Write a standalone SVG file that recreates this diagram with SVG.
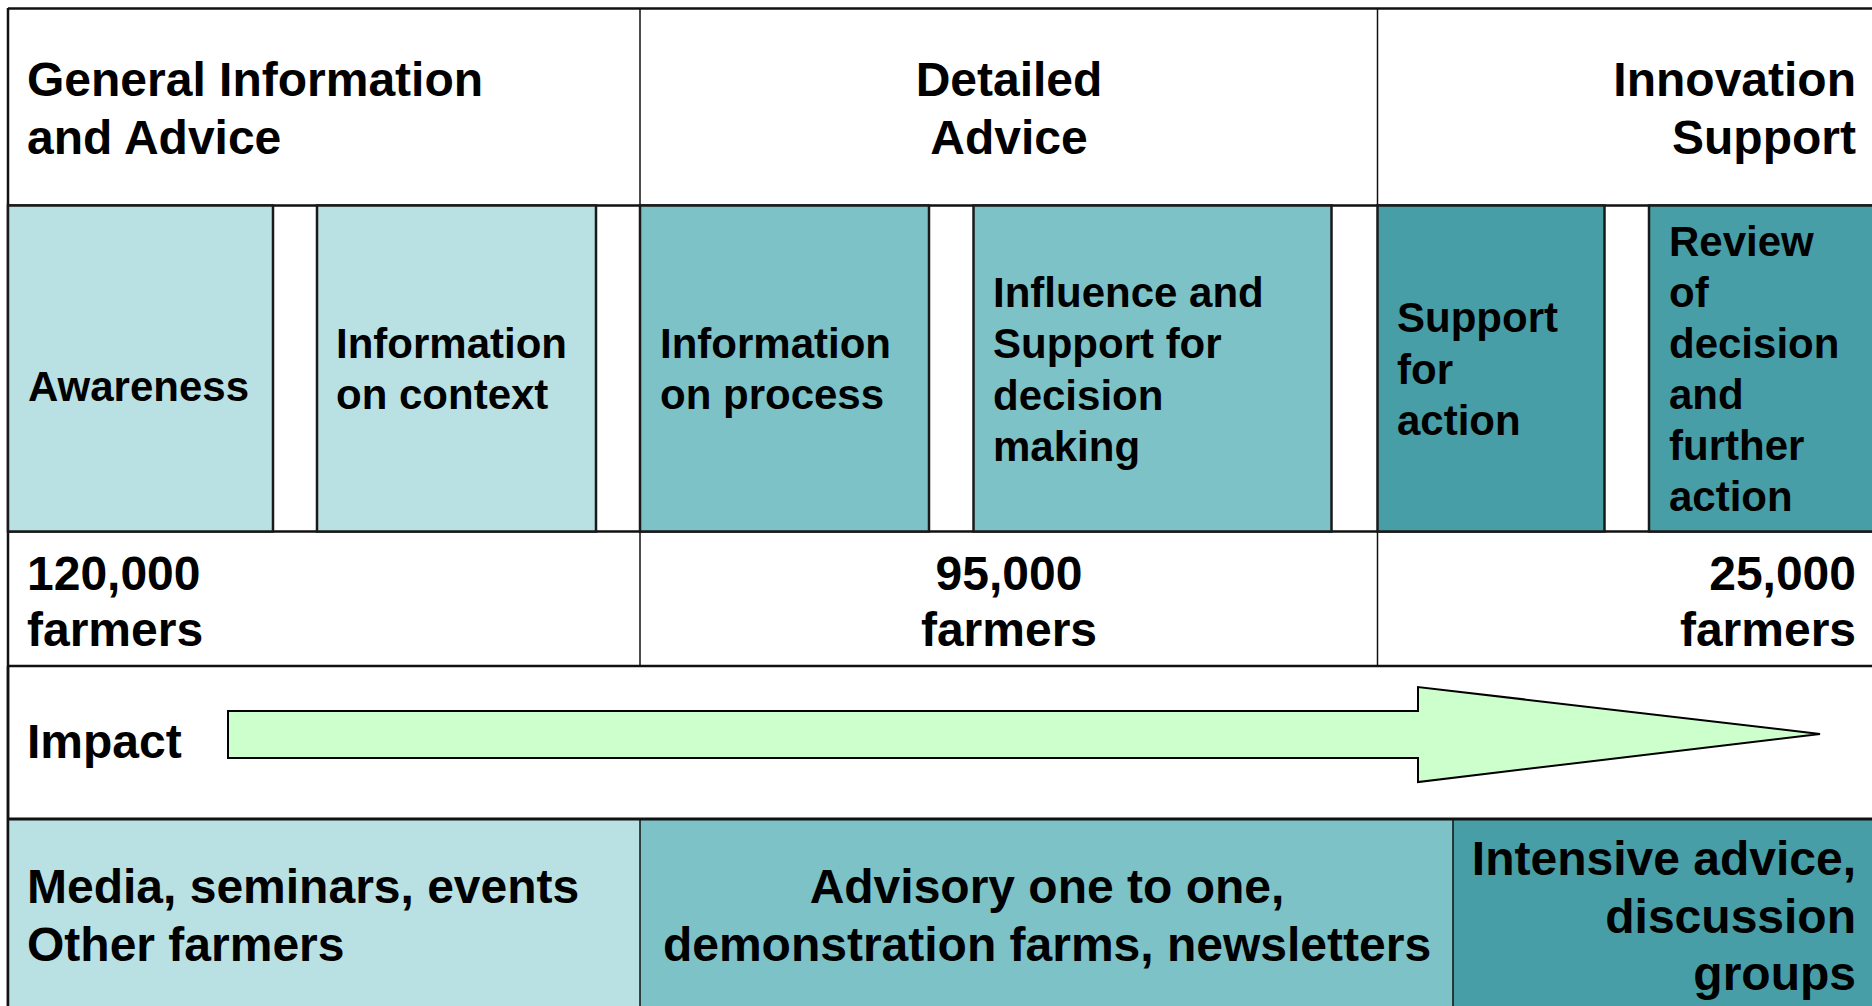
<svg xmlns="http://www.w3.org/2000/svg" width="1872" height="1006" viewBox="0 0 1872 1006">
<style>
text{font-family:"Liberation Sans",Arial,sans-serif;font-weight:bold;fill:#000}
.h{font-size:48px}
.b{font-size:42px}
.light{fill:#B9E0E3}
.mid{fill:#7CC2C7}
.dark{fill:#479EA6}
.box{stroke:#1a1a1a;stroke-width:2.5}
.row{stroke:#111;stroke-width:2.5;fill:none}
.col{stroke:#111;stroke-width:1.5;fill:none}
.mid-t{text-anchor:middle}
.end-t{text-anchor:end}
</style>
<rect x="0" y="0" width="1872" height="1006" fill="#fff"/>
<g id="table-lines">
<line class="row" x1="8" y1="8.5" x2="1872" y2="8.5"/>
<line class="row" x1="8" y1="8" x2="8" y2="1006"/>
<line class="row" x1="8" y1="205.5" x2="1872" y2="205.5"/>
<line class="row" x1="8" y1="531.5" x2="1872" y2="531.5"/>
<line class="row" x1="8" y1="666" x2="1872" y2="666"/>
<line class="col" x1="640" y1="8" x2="640" y2="205"/>
<line class="col" x1="1377.5" y1="8" x2="1377.5" y2="205"/>
<line class="col" x1="640" y1="531" x2="640" y2="666"/>
<line class="col" x1="1377.5" y1="531" x2="1377.5" y2="666"/>
</g>
<g id="header-general"><text class="h" x="27" y="96">General Information</text><text class="h" x="27" y="154">and Advice</text></g>
<g id="header-detailed"><text class="h mid-t" x="1009" y="96">Detailed</text><text class="h mid-t" x="1009" y="154">Advice</text></g>
<g id="header-innovation"><text class="h end-t" x="1856" y="96">Innovation</text><text class="h end-t" x="1856" y="154">Support</text></g>
<g id="awareness"><rect class="box light" x="8" y="205.5" width="265" height="326"/><text class="b" x="28" y="401">Awareness</text></g>
<g id="info-context"><rect class="box light" x="317" y="205.5" width="279" height="326"/><text class="b" x="336" y="358">Information</text><text class="b" x="336" y="409">on context</text></g>
<g id="info-process"><rect class="box mid" x="640" y="205.5" width="289" height="326"/><text class="b" x="660" y="358">Information</text><text class="b" x="660" y="409">on process</text></g>
<g id="influence"><rect class="box mid" x="973.5" y="205.5" width="358" height="326"/><text class="b" x="993" y="307">Influence and</text><text class="b" x="993" y="358">Support for</text><text class="b" x="993" y="410">decision</text><text class="b" x="993" y="461">making</text></g>
<g id="support-action"><rect class="box dark" x="1377.5" y="205.5" width="227" height="326"/><text class="b" x="1397" y="332">Support</text><text class="b" x="1397" y="384">for</text><text class="b" x="1397" y="435">action</text></g>
<g id="review"><rect class="box dark" x="1649" y="205.5" width="240" height="326"/><text class="b" x="1669" y="256">Review</text><text class="b" x="1669" y="307">of</text><text class="b" x="1669" y="358">decision</text><text class="b" x="1669" y="409">and</text><text class="b" x="1669" y="460">further</text><text class="b" x="1669" y="511">action</text></g>
<g id="farmers-120"><text class="h" x="27" y="590">120,000</text><text class="h" x="27" y="646">farmers</text></g>
<g id="farmers-95"><text class="h mid-t" x="1009" y="590">95,000</text><text class="h mid-t" x="1009" y="646">farmers</text></g>
<g id="farmers-25"><text class="h end-t" x="1856" y="590">25,000</text><text class="h end-t" x="1856" y="646">farmers</text></g>
<g id="impact"><text class="h" x="27" y="758">Impact</text>
<polygon points="228,711 1418,711 1418,687 1820,734 1418,782 1418,758 228,758" fill="#CCFFCC" stroke="#000" stroke-width="2"/></g>
<g id="media"><rect class="light" x="8" y="819" width="632" height="190"/><text class="h" x="27" y="903">Media, seminars, events</text><text class="h" x="27" y="961">Other farmers</text></g>
<g id="advisory"><rect class="mid" x="640" y="819" width="813" height="190"/><text class="h mid-t" x="1047" y="903">Advisory one to one,</text><text class="h mid-t" x="1047" y="961">demonstration farms, newsletters</text></g>
<g id="intensive"><rect class="dark" x="1453" y="819" width="420" height="190"/><text class="h end-t" x="1856" y="875">Intensive advice,</text><text class="h end-t" x="1856" y="933">discussion</text><text class="h end-t" x="1856" y="990">groups</text></g>
<g id="bottom-lines">
<line class="row" x1="8" y1="819" x2="1872" y2="819" style="stroke-width:3"/>
<line class="col" x1="640" y1="819" x2="640" y2="1006"/>
<line class="col" x1="1453" y1="819" x2="1453" y2="1006"/>
<line class="row" x1="8" y1="666" x2="8" y2="1006"/>
</g>
</svg>
